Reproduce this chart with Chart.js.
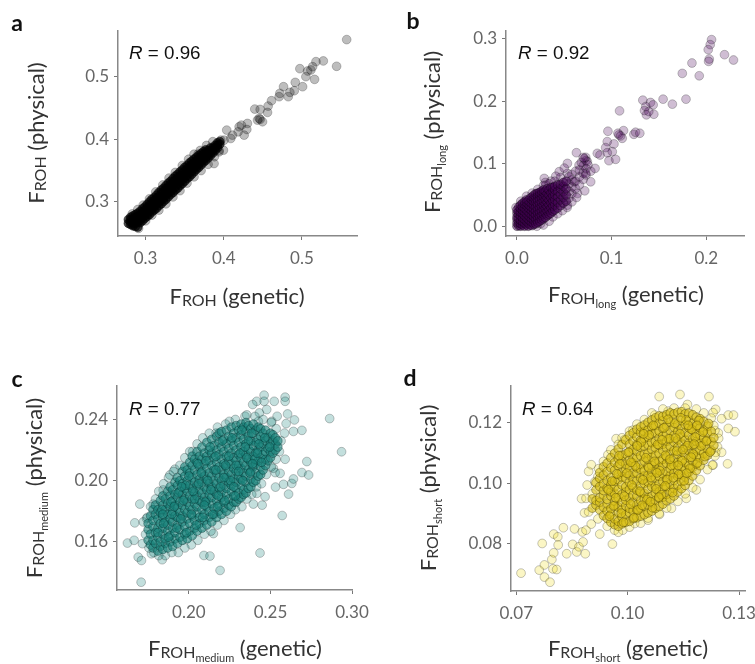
<!DOCTYPE html>
<html><head><meta charset="utf-8">
<script src="https://cdn.jsdelivr.net/npm/chart.js@4"></script>
<style>
html,body{margin:0;padding:0;background:#fff;width:755px;height:664px;overflow:hidden}
#page{position:relative;width:755px;height:664px;overflow:hidden;filter:blur(.4px)}
canvas{position:absolute}
.t{position:absolute;white-space:nowrap;font-family:Lato,sans-serif;color:#333;font-size:22px;line-height:26px;transform:translate(-50%,-50%)}
.t.v{transform:translate(-50%,-50%) rotate(-90deg)}
.s{font-size:16px;position:relative;top:2px}
.ss{font-size:11px;position:relative;top:4px}
.L{position:absolute;font-family:Lato,sans-serif;font-weight:700;font-size:23px;line-height:24px;color:#111;transform:translate(-50%,-50%)}
.R{position:absolute;font-family:"Liberation Sans",sans-serif;font-size:18.8px;line-height:22px;color:#111;transform:translateY(-50%)}
</style></head><body><div id="page"></div>
<script>
// ---- panel a: FROH ----
const aTicks=[0.3,0.4,0.5];
const aOuter=[[.5573,.5585],[.5444,.516],[.5274,.5245],[.518,.5234],[.5137,.5154],[.5115,.5101],[.5073,.5085],[.4974,.5122],[.5051,.4995],[.5162,.4952],[.4915,.4904],[.5009,.4835],[.4902,.4771],[.4846,.4745],[.4825,.4676],[.4765,.4835],[.4718,.4729],[.4709,.4676],[.4611,.4612],[.456,.4426],[.4568,.4527],[.4466,.4473],[.4397,.4479],[.4432,.4303],[.4466,.4314],[.4496,.4277],[.4453,.433],[.4303,.425],[.4226,.4223],[.4197,.4197],[.4295,.4154],[.4261,.4064],[.4184,.4117],[.4111,.4064],[.4038,.4144],[.409,.4011],[.4004,.3984],[.3962,.3984],[.3996,.3824],[.394,.3798],[.3876,.3612],[.3671,.3761]];
const aFringe=[[.283,.281],[.29,.288],[.297,.295],[.305,.305],[.313,.316],[.322,.327],[.33,.338],[.338,.347],[.347,.358],[.355,.368],[.362,.376],[.37,.382],[.378,.39],[.386,.396],[.291,.258],[.3,.27],[.308,.279],[.317,.287],[.326,.297],[.335,.308],[.344,.318],[.353,.33],[.362,.34],[.371,.35],[.38,.36],[.388,.372],[.394,.382]];
const aCore=[[.278,[.266,.272]],[.281,[.264,.268,.272,.276]],[.284,[.262,.265,.270,.274,.278]],[.287,[.261,.266,.271,.275,.280]],[.290,[.260,.268,.272,.277,.282]],[.293,[.267,.271,.276,.280,.285]],[.296,[.270,.275,.279,.284,.289]],[.299,[.274,.278,.283,.287,.292]],[.302,[.277,.281,.286,.291,.296]],[.305,[.280,.285,.289,.295,.300]],[.308,[.284,.288,.293,.298,.304]],[.311,[.287,.292,.297,.302,.307]],[.314,[.290,.296,.300,.306,.311]],[.317,[.294,.299,.304,.309,.315]],[.320,[.297,.303,.308,.313,.319]],[.323,[.301,.306,.311,.317,.322]],[.326,[.304,.310,.315,.321,.326]],[.329,[.308,.314,.319,.324,.330]],[.332,[.312,.317,.322,.328,.333]],[.335,[.315,.321,.326,.332,.337]],[.338,[.319,.324,.330,.335,.341]],[.341,[.322,.328,.333,.339,.344]],[.344,[.326,.331,.337,.342,.348]],[.347,[.329,.335,.340,.346,.351]],[.350,[.333,.339,.344,.349,.355]],[.353,[.337,.342,.347,.353,.358]],[.356,[.340,.346,.351,.356,.362]],[.359,[.344,.349,.354,.360,.365]],[.362,[.348,.353,.358,.363,.368]],[.365,[.352,.356,.361,.366,.371]],[.368,[.355,.360,.365,.370,.374]],[.371,[.359,.364,.368,.373,.377]],[.374,[.363,.367,.372,.376,.380]],[.377,[.366,.371,.375,.379,.383]],[.380,[.370,.374,.378,.382]],[.383,[.374,.378,.382,.386]],[.386,[.378,.382,.386]],[.389,[.382,.386,.390]],[.392,[.386,.390,.394]],[.395,[.392,.396]]];

// ---- panel b: FROH long ----
const bXTicks=[0,0.1,0.2];
const bYTicks=[0,0.1,0.2,0.3];
const bOuter=[[.2056,.2984],[.2042,.2904],[.2021,.2824],[.2032,.2674],[.2025,.2636],[.2288,.2658],[.2193,.2743],[.1849,.261],[.1747,.2444],[.1926,.2406],[.1786,.2032],[.1642,.1952],[.1544,.2032],[.133,.2016],[.1411,.1979],[.1439,.1941],[.1361,.1914],[.1347,.185],[.1368,.1781],[.1446,.1791],[.1393,.1834],[.1084,.1845],[.1126,.1529],[.0961,.1519],[.1235,.147],[.1253,.1503],[.1298,.1487],[.1077,.146],[.1112,.1406],[.1067,.1487],[.1095,.1444],[.0954,.1353],[.1025,.1316],[.0937,.1257],[.1007,.1193],[.0954,.1176],[.0972,.1048],[.1042,.107],[.0849,.1166],[.0877,.1139],[.0628,.1176],[.0726,.1102],[.0744,.1032],[.0656,.0979],[.0825,.0925],[.0726,.0845],[.0779,.0711],[.0716,.0567],[.0533,.1005],[.0446,.0872],[.0533,.0845],[.0288,.0765],[.0305,.0658],[.0639,.0524],[.0533,.0337],[.0604,.0711],[.055,.045],[.055,.056],[.055,.068],[.055,.079],[.058,.052],[.058,.063],[.058,.074],[.058,.083],[.062,.060],[.062,.072],[.062,.088],[.066,.066],[.066,.079],[.066,.09],[.070,.075],[.070,.085],[.070,.097],[.073,.082],[.073,.092],[.073,.105],[.071,.108],[.075,.098],[.078,.088],[.050,.093],[.046,.078],[.041,.08],[.036,.072],[.03,.07],[.068,.102],[.07,.11]];
const bFringe=[[.004,.04],[.01,.048],[.016,.053],[.022,.059],[.028,.065],[.034,.068],[.04,.072],[.028,.002],[.034,.008],[.038,.015],[.043,.02],[.048,.025],[.053,.03],[.058,.039],[.063,.046],[.021,0],[.025,.004],[-.001,.03]];
const bCore=[[0,[0,.005,.011,.015,.021,.026]],[.002,[.001,.006,.012,.019,.024,.031]],[.004,[0,.004,.009,.016,.022,.028,.034]],[.006,[.002,.007,.013,.020,.025,.031,.037]],[.008,[0,.005,.011,.017,.023,.029,.035,.039]],[.010,[.002,.008,.014,.020,.026,.033,.038,.042]],[.012,[0,.005,.011,.017,.023,.029,.035,.041]],[.014,[.002,.008,.014,.020,.027,.032,.038,.045]],[.016,[.001,.006,.012,.018,.024,.030,.036,.042,.047]],[.018,[.003,.009,.015,.021,.027,.033,.039,.045,.050]],[.020,[.004,.011,.018,.025,.032,.039,.046,.052]],[.022,[.006,.013,.020,.027,.034,.041,.048,.053]],[.024,[.008,.015,.022,.029,.036,.043,.050,.054]],[.026,[.010,.017,.024,.031,.038,.045,.052,.056]],[.028,[.012,.019,.026,.033,.040,.047,.054,.058]],[.030,[.014,.021,.028,.035,.042,.049,.056]],[.032,[.017,.024,.031,.038,.045,.052,.060]],[.034,[.019,.026,.034,.042,.050,.058]],[.036,[.021,.029,.037,.045,.053,.062]],[.038,[.024,.032,.040,.048,.056,.062]],[.040,[.026,.034,.042,.050,.058,.064]],[.043,[.029,.038,.047,.056,.066]],[.046,[.033,.042,.051,.060,.067]],[.049,[.037,.046,.055,.064,.070]],[.052,[.040,.050,.060,.072]]];

// ---- panel c: FROH medium ----
const cXTicks=[0.20,0.25,0.30];
const cYTicks=[0.16,0.20,0.24];
const cOuter=[[.1623,.1592],[.1664,.161],[.1699,.1847],[.1668,.1724],[.174,.1752],[.172,.173],[.1734,.1649],[.1715,.1588],[.1689,.15],[.1709,.1478],[.1707,.1336],[.177,.1522],[.1836,.1483],[.2092,.1511],[.2129,.1507],[.2191,.1413],[.215,.1654],[.2314,.1693],[.2436,.1527],[.2572,.1772],[.2395,.1847],[.2449,.184],[.2467,.1895],[.2416,.1917],[.2531,.1958],[.258,.1976],[.2631,.1982],[.2611,.1912],[.2641,.2011],[.2693,.2053],[.2734,.2037],[.2723,.2125],[.259,.214],[.2518,.2081],[.2529,.2053],[.2559,.2048],[.2936,.2189],[.2863,.2406],[.2693,.2329],[.2641,.2322],[.2586,.2311],[.2647,.2397],[.2605,.2436],[.2596,.2373],[.2541,.2421],[.259,.2546],[.259,.2519],[.2523,.2519],[.2461,.2559],[.2461,.2519],[.2416,.2519],[.2391,.2498],[.2477,.2465],[.2432,.2443],[.2426,.2388],[.2508,.2388],[.2248,.2388],[.2344,.2421],[.2166,.2311],[.2023,.2191],[.1914,.2075],[.1883,.2037],[.1842,.1939],[.1781,.1847]];
const cFringe=[[.1745,.176],[.1765,.183],[.1795,.188],[.1815,.193],[.1845,.198],[.1875,.202],[.1905,.206],[.1945,.210],[.1975,.215],[.2005,.219],[.205,.224],[.2085,.228],[.2125,.231],[.2175,.235],[.2225,.237],[.2285,.240],[.2355,.243],[.2405,.242],[.2455,.240],[.2505,.238],[.2535,.234],[.2565,.226],[.2555,.219],[.2535,.214],[.2505,.209],[.2475,.204],[.2445,.198],[.2415,.196],[.2385,.191],[.2355,.188],[.2325,.183],[.2285,.181],[.2255,.178],[.2215,.174],[.2175,.171],[.2135,.167],[.2095,.165],[.2055,.161],[.2015,.158],[.1975,.156],[.1935,.153],[.1895,.153],[.1855,.151],[.1815,.151],[.1785,.153],[.1755,.156]];
const cCore=[[.175,[.161,.168,.172]],[.1765,[.158,.165,.177]],[.178,[.156,.161,.170,.174,.181]],[.1795,[.159,.166,.178,.184]],[.181,[.154,.163,.169,.175,.181]],[.1825,[.157,.160,.172,.179,.187]],[.184,[.155,.165,.169,.176,.184,.190]],[.1855,[.159,.162,.173,.181,.188]],[.187,[.156,.167,.171,.178,.185,.193]],[.1885,[.160,.164,.175,.183,.190,.196]],[.190,[.157,.169,.173,.180,.187,.194]],[.1915,[.162,.166,.177,.184,.191,.199]],[.193,[.159,.171,.176,.182,.189,.197,.202]],[.1945,[.163,.168,.179,.186,.193,.200]],[.196,[.161,.173,.177,.184,.191,.198,.206]],[.1975,[.165,.170,.181,.188,.195,.203,.209]],[.199,[.162,.175,.179,.186,.193,.200,.207]],[.2005,[.167,.172,.183,.190,.197,.205,.212]],[.202,[.164,.177,.181,.188,.195,.202,.210,.216]],[.2035,[.169,.174,.185,.192,.199,.207,.214]],[.205,[.167,.179,.183,.190,.197,.204,.212,.219]],[.2065,[.172,.176,.187,.194,.201,.209,.216]],[.208,[.169,.181,.186,.192,.199,.206,.214,.222]],[.2095,[.174,.178,.189,.196,.203,.211,.218]],[.211,[.171,.183,.187,.194,.201,.208,.216,.225]],[.2125,[.176,.180,.191,.198,.205,.213,.220]],[.214,[.173,.185,.189,.196,.203,.210,.218,.227]],[.2155,[.178,.182,.193,.200,.207,.215,.223]],[.217,[.176,.187,.191,.198,.205,.212,.220,.229]],[.2185,[.180,.184,.195,.202,.209,.217,.225,.231]],[.220,[.178,.189,.193,.200,.207,.214,.222,.232]],[.2215,[.182,.186,.197,.204,.211,.219,.227]],[.223,[.180,.191,.195,.202,.209,.216,.224,.233]],[.2245,[.184,.188,.199,.206,.213,.221,.229]],[.226,[.183,.193,.197,.204,.211,.218,.226,.235]],[.2275,[.186,.190,.201,.208,.215,.223,.231]],[.229,[.186,.195,.199,.206,.213,.220,.228,.236]],[.2305,[.188,.192,.203,.210,.217,.225,.233]],[.232,[.189,.197,.201,.208,.215,.222,.230,.237]],[.2335,[.191,.194,.205,.212,.219,.227,.235]],[.235,[.192,.199,.203,.210,.217,.224,.232,.238]],[.2365,[.195,.207,.214,.221,.229,.236]],[.238,[.196,.201,.206,.212,.219,.226,.234]],[.2395,[.199,.209,.216,.223,.231,.237]],[.241,[.200,.205,.211,.218,.225,.233]],[.2425,[.203,.213,.220,.227,.235]],[.244,[.204,.209,.215,.222,.229,.234]],[.2455,[.207,.217,.224,.231]],[.247,[.210,.214,.219,.226,.233]],[.2485,[.213,.221,.228]],[.250,[.215,.219,.224,.231]],[.2515,[.218,.226,.230]],[.253,[.220,.224,.228]],[.2545,[.222,.226]]];
const cExtra=[[.181,.166],[.1845,.172],[.1835,.181],[.1875,.163],[.1895,.178],[.189,.186],[.1925,.169],[.1935,.192],[.195,.175],[.1965,.187],[.1985,.166],[.198,.197],[.2015,.178],[.2,.203],[.2045,.171],[.2035,.188],[.206,.198],[.2055,.211],[.2085,.176],[.2075,.205],[.21,.186],[.2105,.213],[.2135,.194],[.2145,.178],[.213,.222],[.2165,.207],[.2175,.183],[.2165,.216],[.2195,.196],[.2205,.226],[.222,.187],[.2225,.21],[.2255,.2],[.2245,.216],[.2265,.228],[.2285,.19],[.229,.21],[.2315,.218],[.233,.2],[.2325,.233],[.2355,.215],[.2375,.205],[.2365,.226],[.2405,.214],[.2385,.231],[.243,.224],[.2445,.212],[.2465,.228],[.2495,.222],[.184,.178],[.191,.183],[.1955,.196],[.2025,.193],[.2095,.184],[.2115,.2],[.218,.19],[.2215,.202],[.2275,.196],[.2305,.206],[.2345,.222],[.239,.211],[.242,.218]];

// ---- panel d: FROH short ----
const dXTicks=[0.07,0.10,0.13];
const dYTicks=[0.08,0.10,0.12];
const dOuter=[[.0713,.0703],[.0762,.0713],[.0776,.073],[.0776,.069],[.0791,.0673],[.0796,.0748],[.0801,.077],[.0799,.0717],[.0809,.0715],[.077,.0801],[.0801,.0832],[.0812,.0823],[.0813,.0796],[.0827,.0853],[.0836,.0767],[.0857,.0849],[.0852,.0798],[.0863,.0773],[.0869,.079],[.088,.0806],[.0878,.0839],[.0886,.0767],[.0888,.0845],[.0902,.0865],[.0925,.0832],[.0959,.0799],[.0876,.0949],[.0888,.095],[.0884,.0902],[.0891,.0994],[.0895,.1039],[.0902,.1061],[.092,.1022],[.0947,.1094],[.0969,.1147],[.0992,.1144],[.1014,.1175],[.1085,.1286],[.1141,.1293],[.1219,.1286],[.1161,.126],[.1073,.1225],[.1109,.1238],[.1237,.1244],[.123,.1233],[.1253,.1213],[.1271,.1225],[.1285,.1225],[.1271,.1181],[.1289,.117],[.1244,.1166],[.1235,.1174],[.1242,.112],[.1253,.1102],[.1237,.1102],[.123,.106],[.1269,.1064],[.1185,.0978],[.1158,.095],[.1118,.0917],[.1086,.0897],[.1055,.0878],[.1019,.0867],[.0987,.0845],[.0965,.0845]];
const dFringe=[[.0895,.0905],[.0905,.0965],[.0912,.1005],[.0922,.1048],[.0935,.1072],[.0955,.111],[.0975,.1128],[.0985,.115],[.1005,.1172],[.1025,.1195],[.1045,.121],[.1065,.1232],[.1095,.1245],[.1125,.1248],[.1155,.1248],[.1185,.1245],[.1205,.1232],[.1225,.1215],[.1232,.119],[.1245,.1148],[.1235,.109],[.1228,.106],[.1215,.1045],[.1195,.1012],[.1175,.0985],[.1155,.0965],[.1135,.094],[.1105,.0918],[.1085,.09],[.1055,.0885],[.1035,.0868],[.1005,.0855],[.0975,.0838],[.0945,.0858],[.092,.0882]];
const dCore=[[.0905,[.0918,.0948]],[.0915,[.0928,.0943,.0978,.1002]],[.0925,[.0912,.0937,.0952,.0989,.1016,.1035]],[.0935,[.0893,.0921,.0961,.0976,.0998,.1027,.1054]],[.0945,[.0884,.0908,.0932,.0947,.0983,.1009,.1038,.1066]],[.0955,[.0871,.0897,.0916,.0958,.0972,.0995,.1018,.1051,.1084]],[.0965,[.0863,.0882,.0927,.0941,.0966,.0988,.1007,.1043,.1068,.1099]],[.0975,[.0858,.0874,.0903,.0921,.0952,.0979,.1012,.1029,.1057,.1081,.1113]],[.0985,[.0866,.0889,.0912,.0938,.0963,.0994,.1021,.1036,.1072,.1092,.1128]],[.0995,[.0871,.0896,.0925,.0944,.0971,.0988,.1016,.1048,.1063,.1097,.1143]],[.1005,[.0874,.0903,.0917,.0951,.0979,.1003,.1027,.1052,.1076,.1104,.1128,.1158]],[.1015,[.0883,.0909,.0938,.0962,.0986,.1012,.1034,.1067,.1082,.1112,.1139,.1166]],[.1025,[.0886,.0911,.0929,.0958,.0977,.1008,.1033,.1051,.1084,.1106,.1127,.1153,.1178]],[.1035,[.0891,.0918,.0942,.0969,.0992,.1017,.1046,.1062,.1091,.1118,.1141,.1168,.1186]],[.1045,[.0896,.0923,.0948,.0966,.0999,.1024,.1041,.1073,.1097,.1122,.1148,.1171,.1192]],[.1055,[.0902,.0928,.0953,.0981,.1004,.1026,.1055,.1078,.1099,.1127,.1152,.1176,.1201]],[.1065,[.0908,.0936,.0957,.0988,.1009,.1037,.1058,.1086,.1112,.1134,.1163,.1187,.1209]],[.1075,[.0917,.0943,.0968,.0989,.1018,.1041,.1066,.1093,.1117,.1138,.1167,.1191,.1216]],[.1085,[.0923,.0951,.0972,.0998,.1023,.1052,.1073,.1098,.1126,.1149,.1172,.1198,.1222]],[.1095,[.0931,.0954,.0983,.1006,.1031,.1057,.1079,.1108,.1129,.1156,.1181,.1207,.1221]],[.1105,[.0942,.0963,.0989,.1014,.1038,.1066,.1087,.1116,.1139,.1163,.1189,.1226]],[.1115,[.0948,.0974,.0997,.1026,.1048,.1073,.1099,.1122,.1147,.1174,.1202,.1232]],[.1125,[.0958,.0983,.1009,.1034,.1059,.1083,.1108,.1136,.1158,.1184,.1211,.1229]],[.1135,[.0971,.0994,.1022,.1043,.1069,.1096,.1119,.1143,.1171,.1194,.1234]],[.1145,[.0982,.1006,.1029,.1056,.1078,.1104,.1132,.1153,.1179,.1207,.1236]],[.1155,[.0993,.1021,.1044,.1068,.1093,.1118,.1143,.1168,.1193,.1229]],[.1165,[.1009,.1036,.1058,.1084,.1107,.1133,.1159,.1183,.1208,.1231]],[.1175,[.1024,.1051,.1073,.1098,.1126,.1147,.1176,.1198,.1226]],[.1185,[.1042,.1063,.1089,.1114,.1138,.1164,.1189,.1218]],[.1195,[.1058,.1084,.1109,.1133,.1159,.1183,.1213]],[.1205,[.1076,.1098,.1127,.1148,.1174,.1204]],[.1215,[.1092,.1113,.1142,.1166,.1188]],[.1225,[.1108,.1138,.1171]],[.1232,[.1125,.115]]];
const dExtra=[[.0962,.0925],[.0948,.0978],[.0971,.1031],[.0983,.0901],[.0991,.0957],[.0979,.1064],[.1002,.1102],[.1008,.0931],[.1011,.0994],[.1021,.1057],[.1028,.0912],[.1033,.0973],[.1037,.1136],[.1041,.1011],[.1049,.1084],[.1052,.0946],[.1058,.1159],[.1063,.1019],[.1067,.0919],[.1072,.1072],[.1077,.0981],[.1081,.1128],[.1087,.1041],[.1091,.0962],[.1098,.1183],[.1102,.1092],[.1107,.1012],[.1111,.1147],[.1118,.1058],[.1121,.0969],[.1127,.1198],[.1132,.1106],[.1138,.1029],[.1141,.1163],[.1147,.1074],[.1152,.1008],[.1157,.1209],[.1161,.1124],[.1168,.1049],[.1172,.1178],[.1177,.1096],[.1182,.1152],[.1188,.1067],[.1192,.1207],[.1198,.1123],[.1203,.1169],[.1208,.1088],[.1212,.1139],[.1218,.1197],[.1222,.1103],[.0958,.1007],[.0951,.0891],[.0968,.0952],[.0977,.1091],[.0989,.0871],[.0998,.1033],[.1009,.1069],[.1017,.0886],[.1026,.1123],[.1039,.0927],[.1043,.1163],[.1057,.1051],[.1061,.0939],[.1069,.1191],[.1079,.1034],[.1084,.0954],[.1093,.1143],[.1101,.0991],[.1109,.1211],[.1114,.1079],[.1123,.1018],[.1129,.1149],[.1136,.1059],[.1143,.1216],[.1149,.1111],[.1159,.1033],[.1163,.1191],[.1171,.1086],[.1179,.1129],[.1187,.1191]];

const flat=cols=>cols.flatMap(([x,ys])=>ys.map(y=>({x,y})));
const pts=a=>a.map(([x,y])=>({x,y}));
const lab=sub=>`F<span class="s">ROH${sub?`<span class="ss">${sub}</span>`:''}</span>`;

const panels=[
 {rgb:'0,0,0',core:flat(aCore),outer:pts([...aOuter,...aFringe]),xt:aTicks,yt:aTicks,xd:1,yd:1,box:[117.5,31,356,235.7],x:[.2647,.5705],y:[.2458,.5722],cc:'rgba(0,0,0,.7)',cb:'rgba(0,0,0,.5)'},
 {rgb:'68,1,84',core:flat(bCore),outer:pts([...bOuter,...bFringe]),xt:bXTicks,yt:bYTicks,xd:1,yd:1,box:[506.3,31,744.7,235.7],x:[-.0116,.2399],y:[-.0156,.3122],cc:'rgba(68,1,84,.55)',cb:'rgba(0,0,0,.35)'},
 {rgb:'24,130,122',core:[...flat(cCore),...pts(cExtra)],outer:pts([...cOuter,...cFringe]),xt:cXTicks,yt:cYTicks,xd:2,yd:2,box:[117.3,386,352,590],x:[.1559,.30],y:[.1285,.2619],cc:'rgba(24,130,122,.6)',cb:'rgba(0,40,38,.4)'},
 {rgb:'240,220,30',core:[...flat(dCore),...pts(dExtra)],outer:pts([...dOuter,...dFringe]),xt:dXTicks,yt:dYTicks,xd:2,yd:2,box:[511,386,744.7,590.7],x:[.0686,.1316],y:[.0644,.1321],cc:'rgba(216,192,20,.6)',cb:'rgba(70,60,0,.45)'}
];
const page=document.getElementById('page');
const ML=70,MT=26,MR=44,MB=34;
panels.forEach(p=>{
 const [L,T,R,B]=p.box;
 const c=document.createElement('canvas');
 const W=Math.round(R-L)+ML+MR,H=Math.round(B-T)+MT+MB;
 c.width=W;c.height=H;c.style.left=(L-ML)+'px';c.style.top=(T-MT)+'px';c.style.width=W+'px';c.style.height=H+'px';
 page.appendChild(c);
 const axis=(rng,ticks,dec,horizontal)=>({
  type:'linear',min:rng[0],max:rng[1],
  afterBuildTicks:s=>{s.ticks=ticks.map(v=>({value:v}));},
  afterFit:s=>{if(horizontal)s.height=MB;else s.width=ML;},
  grid:{drawOnChartArea:false,drawTicks:true,tickLength:4,tickColor:'#777',color:'#777'},
  border:{display:true,color:'#888',width:1.5},
  ticks:{autoSkip:false,maxRotation:0,color:'#666',padding:horizontal?8:5,font:{family:'Lato',size:17},callback:v=>Number(v).toFixed(dec)}
 });
 new Chart(c,{type:'scatter',
  data:{datasets:[
   {data:p.core,clip:false,pointRadius:4.4,backgroundColor:p.cc,borderColor:p.cb,borderWidth:0.9},
   {data:p.outer,clip:false,pointRadius:4.4,backgroundColor:`rgba(${p.rgb},0.26)`,borderColor:'rgba(0,0,0,0.25)',borderWidth:0.9}
  ]},
  options:{responsive:false,animation:false,layout:{padding:{left:0,top:MT,right:MR,bottom:0}},
   plugins:{legend:{display:false},tooltip:{enabled:false}},
   scales:{x:axis(p.x,p.xt,p.xd,true),y:axis(p.y,p.yt,p.yd,false)}}});
});
const add=(cls,html,x,y)=>{const d=document.createElement('div');d.className=cls;d.innerHTML=html;d.style.left=x+'px';d.style.top=y+'px';page.appendChild(d);};
add('L','a',17,22);add('L','b',413,20);add('L','c',17,378);add('L','d',410,377);
add('R','<i>R</i> = 0.96',129,53);add('R','<i>R</i> = 0.92',518,53);add('R','<i>R</i> = 0.77',129,409);add('R','<i>R</i> = 0.64',522,409);
add('t',lab()+' (genetic)',237,297);add('t v',lab()+' (physical)',37,133);
add('t',lab('long')+' (genetic)',626,296);add('t v',lab('long')+' (physical)',434,132);
add('t',lab('medium')+' (genetic)',235,650);add('t v',lab('medium')+' (physical)',36,488);
add('t',lab('short')+' (genetic)',628,650);add('t v',lab('short')+' (physical)',430,488);
</script></body></html>
